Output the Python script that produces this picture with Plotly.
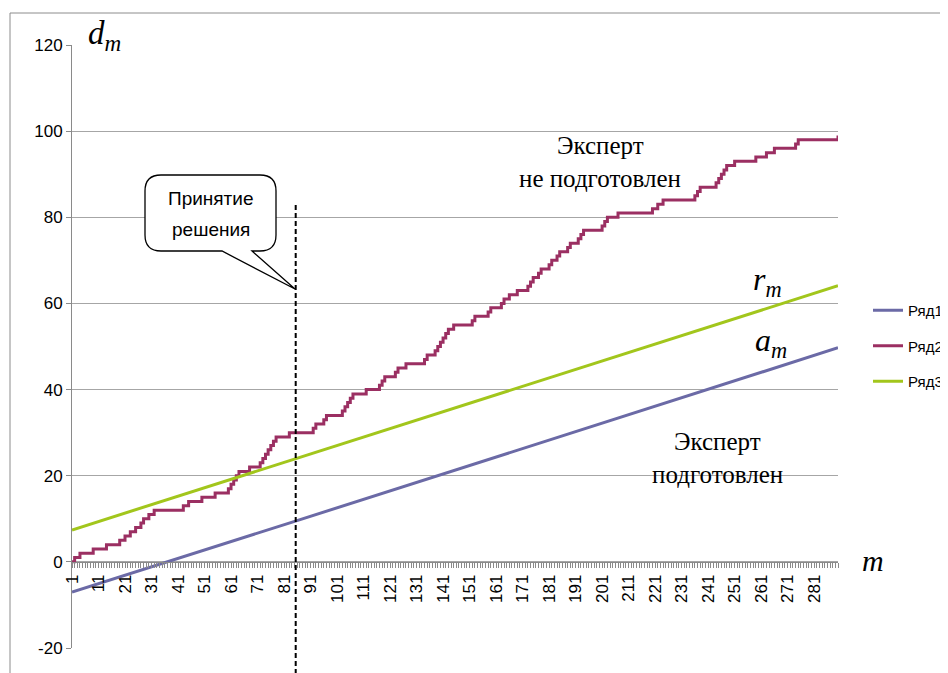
import plotly.graph_objects as go

# ---------------- data ----------------
# Ряд1: lower boundary a_m (straight line)
a_m_x = [1, 85, 290]
a_m_y = [-7.0, 9.4, 49.7]
# Ряд3: upper boundary r_m (straight line)
r_m_x = [1, 85, 290]
r_m_y = [7.4, 23.9, 64.1]
# Ряд2: accumulated errors d_m, step levels (m where level starts, level)
d_step_m = [1, 2, 4, 9, 14, 19, 21, 23, 25, 27, 28, 30, 32, 43, 45, 50, 55, 60, 61, 62,
            63, 64, 68, 72, 73, 74, 75, 76, 77, 78, 83, 92, 93, 96, 97, 103, 104, 105, 106, 107,
            112, 117, 118, 119, 123, 124, 127, 134, 135, 138, 139, 140, 141, 142, 143, 145, 152, 153, 158, 159,
            163, 164, 166, 169, 173, 174, 175, 177, 178, 181, 182, 184, 185, 188, 189, 192, 193, 194, 201, 202,
            203, 207, 220, 222, 224, 236, 237, 238, 244, 245, 246, 247, 248, 251, 259, 263, 266, 274, 275, 289, 290]
d_step_v = [0, 1, 2, 3, 4, 5, 6, 7, 8, 9, 10, 11, 12, 13, 14, 15, 16, 17, 18, 19,
            20, 21, 22, 23, 24, 25, 26, 27, 28, 29, 30, 31, 32, 33, 34, 35, 36, 37, 38, 39,
            40, 41, 42, 43, 44, 45, 46, 47, 48, 49, 50, 51, 52, 53, 54, 55, 56, 57, 58, 59,
            60, 61, 62, 63, 64, 65, 66, 67, 68, 69, 70, 71, 72, 73, 74, 75, 76, 77, 78, 79,
            80, 81, 82, 83, 84, 85, 86, 87, 88, 89, 90, 91, 92, 93, 94, 95, 96, 97, 98, 98, 99]
x_tick_vals = list(range(1, 290, 10))
x_tick_text = [str(v) for v in x_tick_vals]
y_tick_vals = [-20, 0, 20, 40, 60, 80, 100, 120]
y_tick_text = ["-20", "0", "20", "40", "60", "80", "100", "120"]
series_names = ["Ряд1", "Ряд2", "Ряд3"]
decision_m = 85.4

# ---------------- layout helpers ----------------
# the page body adds an 8px margin, so the figure is made 8px smaller
BODY = 8
W, H = 948 - BODY, 673 - BODY
PL, PT, PR, PB = 72, 45, 838, 648          # plot area in page pixels
L, T = PL - BODY, PT - BODY
R, B = W - (PR - BODY), H - (PB - BODY)
PW, PH = PR - PL, PB - PT

def px(x):
    return (x - PL) / PW

def py(y):
    return (PB - y) / PH

col_a = "#6B6AA6"
col_d = "#9B2F62"
col_r = "#A2C61C"

fig = go.Figure()
fig.add_trace(go.Scatter(x=a_m_x, y=a_m_y, mode="lines", name=series_names[0],
                         line=dict(color=col_a, width=3), legendgroup="g1"))
fig.add_trace(go.Scatter(x=d_step_m, y=d_step_v, mode="lines", name=series_names[1],
                         line=dict(color=col_d, width=3, shape="hv"), legendgroup="g2"))
fig.add_trace(go.Scatter(x=r_m_x, y=r_m_y, mode="lines", name=series_names[2],
                         line=dict(color=col_r, width=3), legendgroup="g3"))

shapes = []
# outer chart border
shapes.append(dict(type="rect", xref="paper", yref="paper",
                   x0=px(10), x1=px(1100), y0=py(800), y1=py(13),
                   line=dict(color="#8c8c8c", width=1), fillcolor="rgba(0,0,0,0)", layer="below"))
# decision dashed line
shapes.append(dict(type="line", xref="x", yref="paper", x0=decision_m, x1=decision_m,
                   y0=py(690), y1=py(205), line=dict(color="black", width=2, dash="5px,3px")))
# callout bubble
x0b, x1b, y0b, y1b, rr = 145, 276, 175, 251, 16
tail_l, tail_r, tip = 222, 252, (295, 289)

def P(x, y):
    return f"{px(x):.5f},{py(y):.5f}"

path = (f"M {P(x0b + rr, y0b)} L {P(x1b - rr, y0b)} Q {P(x1b, y0b)} {P(x1b, y0b + rr)} "
        f"L {P(x1b, y1b - rr)} Q {P(x1b, y1b)} {P(x1b - rr, y1b)} "
        f"L {P(tail_r, y1b)} L {P(*tip)} L {P(tail_l, y1b)} "
        f"L {P(x0b + rr, y1b)} Q {P(x0b, y1b)} {P(x0b, y1b - rr)} "
        f"L {P(x0b, y0b + rr)} Q {P(x0b, y0b)} {P(x0b + rr, y0b)} Z")
shapes.append(dict(type="path", xref="paper", yref="paper", path=path,
                   line=dict(color="black", width=1.3), fillcolor="white", layer="above"))

serif = "Liberation Serif"
sans = "Liberation Sans"
ann = []

def txt(x, y, s, size, family=serif, xanchor="center"):
    ann.append(dict(x=px(x), y=py(y), xref="paper", yref="paper", text=s, showarrow=False,
                    font=dict(family=family, size=size, color="black"), xanchor=xanchor, yanchor="middle"))

txt(211, 199, "Принятие", 19, sans)
txt(211, 229, "решения", 19, sans)
txt(600, 145, "Эксперт", 25)
txt(600, 178, "не подготовлен", 25)
txt(717, 441, "Эксперт", 25)
txt(717, 474, "подготовлен", 25)
# axis / line labels
txt(104, 36, "<i>d</i><sub><i>m</i></sub>", 33)
txt(873, 560, "<i>m</i>", 30)
txt(767, 281, "<i>r</i><sub><i>m</i></sub>", 32)
txt(771, 342, "<i>a</i><sub><i>m</i></sub>", 32)

grid = "#a6a6a6"
axcol = "#8a8a8a"
fig.update_layout(
    width=W, height=H, margin=dict(l=L, r=R, t=T, b=B, autoexpand=False),
    paper_bgcolor="white", plot_bgcolor="white",
    shapes=shapes, annotations=ann,
    showlegend=True,
    legend=dict(x=px(868), y=py(294), xanchor="left", yanchor="top",
                font=dict(family=sans, size=15, color="black"),
                tracegroupgap=13, bgcolor="rgba(0,0,0,0)", itemwidth=30),
    xaxis=dict(range=[1, 290], anchor="free", position=20 / 140, showline=True, linecolor=axcol,
               linewidth=1, showgrid=False, zeroline=False,
               tickmode="array", tickvals=x_tick_vals, ticktext=x_tick_text, tickangle=-90,
               ticks="outside", ticklen=5, tickcolor=axcol,
               tickfont=dict(family=sans, size=17, color="black"),
               minor=dict(ticks="outside", dtick=1, tick0=1, ticklen=5, tickcolor=axcol, showgrid=False)),
    yaxis=dict(range=[-20, 120], tickmode="array", tickvals=y_tick_vals, ticktext=y_tick_text,
               showline=True, linecolor=axcol, linewidth=1,
               showgrid=True, gridcolor=grid, gridwidth=1, zeroline=False,
               ticks="outside", ticklen=5, tickcolor=axcol,
               tickfont=dict(family=sans, size=17, color="black")),
)

fig.write_html("out.html")
